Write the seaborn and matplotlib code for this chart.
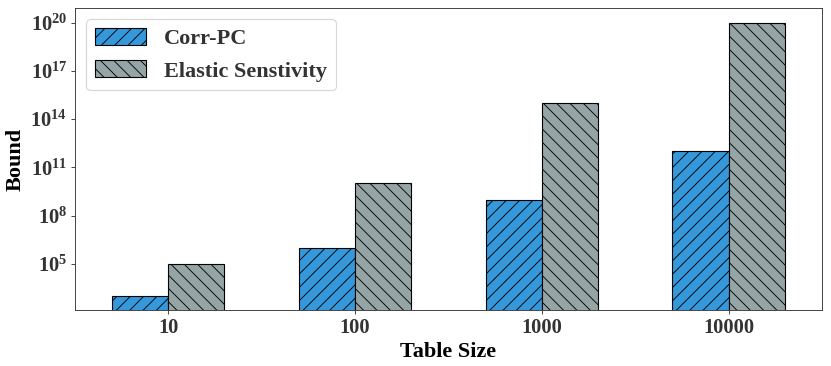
#!/usr/bin/env python3

import pandas as pd
import numpy as np
import matplotlib
matplotlib.use("Agg")
import matplotlib.pyplot as plt
import seaborn as sns

# values (log scale)
table_sizes = ["10", "100", "1000", "10000"]
corr_pc = [1e3, 1e6, 1e9, 1e12]
elastic = [1e5, 1e10, 1e15, 1e20]
methods = ["Corr-PC", "Elastic Senstivity"]
ytick_vals = [1e5, 1e8, 1e11, 1e14, 1e17, 1e20]

plt.rcParams["font.family"] = ["Liberation Serif", "DejaVu Serif"]
plt.rcParams["font.weight"] = "bold"
plt.rcParams["mathtext.fontset"] = "custom"
plt.rcParams["mathtext.rm"] = "Liberation Serif:bold"
plt.rcParams["mathtext.default"] = "rm"
plt.rcParams["text.color"] = "#333333"
plt.rcParams["xtick.color"] = "#333333"
plt.rcParams["ytick.color"] = "#333333"
plt.rcParams["hatch.linewidth"] = 0.8

df = pd.DataFrame({
    "size": table_sizes * 2,
    "bound": corr_pc + elastic,
    "method": [methods[0]] * 4 + [methods[1]] * 4,
})

fig, ax = plt.subplots(figsize=(831 / 80, 366 / 80), dpi=80)
fig.subplots_adjust(left=0.0903, right=0.989, bottom=0.153, top=0.978)

sns.barplot(data=df, x="size", y="bound", hue="method", hue_order=methods,
            palette=["#3498db", "#95a5a6"], saturation=1, width=0.6,
            edgecolor="black", linewidth=1, legend=False, ax=ax)
ax.set_yscale("log")

for cont, h in zip(ax.containers, ["//", "\\\\"]):
    for p in cont:
        p.set_hatch(h)

ax.set_ylim(10 ** 2.14, 10 ** 20.9)
ax.set_yticks(ytick_vals)
ax.yaxis.set_minor_locator(matplotlib.ticker.NullLocator())
ax.tick_params(labelsize=18.5)

ax.set_xlabel("Table Size", fontsize=20, fontweight="bold")
ax.set_ylabel("Bound", fontsize=20, fontweight="bold")

for s in ax.spines.values():
    s.set_color("#333333")

ax.legend([c[0] for c in ax.containers], methods, loc="upper left",
          fontsize=20, handlelength=2.3, handleheight=0.8)

plt.savefig("out.png", dpi=80)
